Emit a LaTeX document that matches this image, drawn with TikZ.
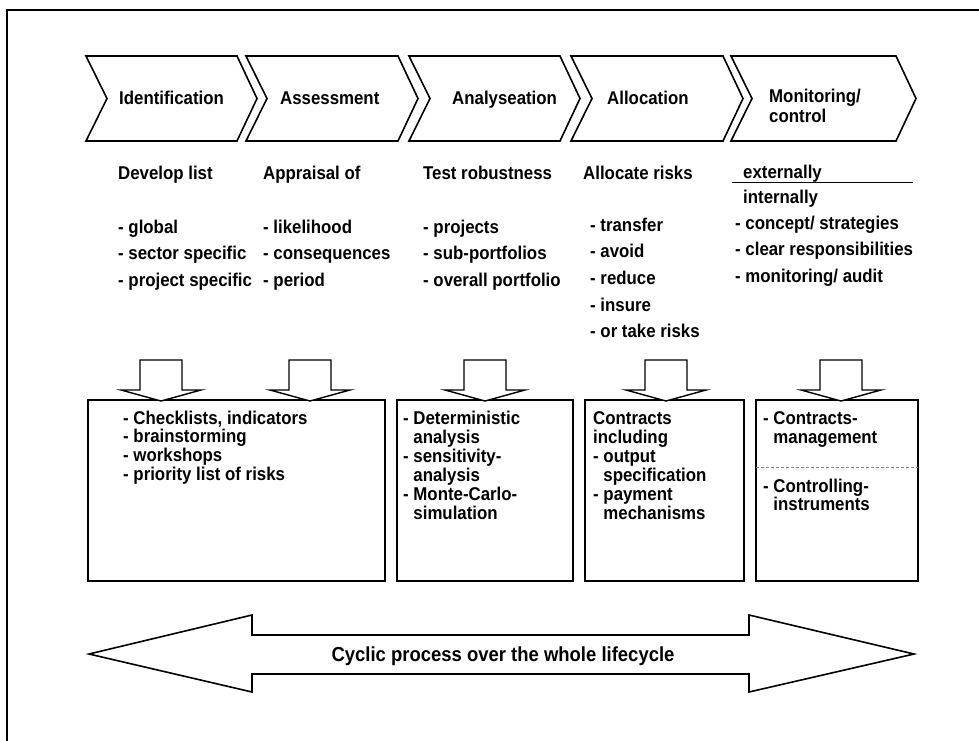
\documentclass[tikz,border=0pt]{standalone}
\usepackage{fontspec}
\setmainfont{Liberation Sans}
\newfontfamily\heavy{Liberation Sans Bold}[FakeStretch=0.91]
\begin{document}
\begin{tikzpicture}[x=1pt,y=-1pt,
  shp/.style={draw=black, line width=1.6pt, line join=miter, fill=white},
  frm/.style={draw=black, line width=1.8pt},
  lt/.style={anchor=base west, inner sep=0pt, font=\heavy\fontsize{18.5}{20}\selectfont},
  big/.style={anchor=base, inner sep=0pt, font=\heavy\fontsize{20.3}{22}\selectfont}
]
\useasboundingbox (0,0) rectangle (979,740);
% frame (top and left visible)
\draw[frm] (7,742) -- (7,10) -- (981,10);

% chevrons
\foreach \L/\R in {86/237, 246/398, 409/560, 571/723, 731/896}{
  \draw[shp] (\L,56) -- (\R,56) -- (\R+20,98.5) -- (\R,141) -- (\L,141) -- (\L+21,98.5) -- cycle;
}
\node[lt] (h1) at (119,104) {Identification};
\node[lt] (h2) at (280,104) {Assessment};
\node[lt] (h3) at (452,104) {Analyseation};
\node[lt] (h4) at (607,104) {Allocation};
\node[lt] (h5) at (769,102) {Monitoring/};
\node[lt] (h5b) at (769,122) {control};

% column texts
\node[lt] (c1) at (118,179) {Develop list};
\node[lt] (c2) at (263,179) {Appraisal of};
\node[lt] (c3) at (423,179) {Test robustness};
\node[lt] (c4) at (583,179) {Allocate risks};
\node[lt] (c5) at (743,178) {externally};
\draw[line width=1.2pt] (732,182.5) -- (913,182.5);
\node[lt] (c5b) at (743,203) {internally};

\foreach \t [count=\i] in {- global, - sector specific, - project specific}
  \node[lt] (c1i\i) at (118,{233+(\i-1)*26.7}) {\t};
\foreach \t [count=\i] in {- likelihood, - consequences, - period}
  \node[lt] (c2i\i) at (263,{233+(\i-1)*26.7}) {\t};
\foreach \t [count=\i] in {- projects, - sub-portfolios, - overall portfolio}
  \node[lt] (c3i\i) at (423,{233+(\i-1)*26.7}) {\t};
\foreach \t [count=\i] in {- transfer, - avoid, - reduce, - insure, - or take risks}
  \node[lt] (c4i\i) at (590,{231+(\i-1)*26.7}) {\t};
\foreach \t [count=\i] in {- concept/ strategies, - clear responsibilities, - monitoring/ audit}
  \node[lt] (c5i\i) at (735,{229+(\i-1)*26.5}) {\t};

% boxes
\draw[shp] (88,400) rectangle (385,581);
\draw[shp] (397,400) rectangle (573,581);
\draw[shp] (585,400) rectangle (744,581);
\draw[shp] (756,400) rectangle (918,581);
\draw[gray, densely dashed, line width=0.8pt] (756,467) -- (918,467);

% block arrows
\foreach \c in {161, 310, 485, 666, 841}{
  \draw[shp, line width=1.4pt] (\c-21,360) -- (\c+21,360) -- (\c+21,390) -- (\c+40,390) -- (\c,401) -- (\c-40,390) -- (\c-21,390) -- cycle;
}

% box texts
\foreach \t [count=\i] in {- Checklists{,} indicators, - brainstorming, - workshops, - priority list of risks}
  \node[lt] (b1i\i) at (123,{424+(\i-1)*18.7}) {\t};
\foreach \t [count=\i] in {- Deterministic, \hphantom{- }analysis, - sensitivity-, \hphantom{- }analysis, - Monte-Carlo-, \hphantom{- }simulation}
  \node[lt] (b2i\i) at (403,{424+(\i-1)*19}) {\t};
\foreach \t [count=\i] in {Contracts, including, - output, \hphantom{- }specification, - payment, \hphantom{- }mechanisms}
  \node[lt] (b3i\i) at (593,{424+(\i-1)*19}) {\t};
\node[lt] (b4i1) at (763,424) {- Contracts-};
\node[lt] (b4i2) at (763,443) {\hphantom{- }management};
\node[lt] (b4i3) at (763,492) {- Controlling-};
\node[lt] (b4i4) at (763,510) {\hphantom{- }instruments};

% big double arrow
\draw[shp] (89,654) -- (252,615) -- (252,635) -- (749,635) -- (749,615) -- (914,654)
  -- (749,692) -- (749,674) -- (252,674) -- (252,692) -- cycle;
\node[big] (cyc) at (503,661) {Cyclic process over the whole lifecycle};
\end{tikzpicture}
\end{document}
